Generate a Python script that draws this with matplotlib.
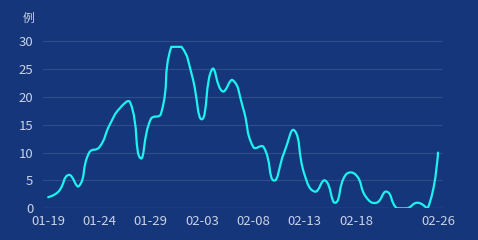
import matplotlib
matplotlib.use("Agg")
import matplotlib.pyplot as plt
from matplotlib.path import Path
from matplotlib.patches import PathPatch

plt.rcParams['font.family'] = ['Noto Sans CJK SC', 'DejaVu Sans']

# daily new cases, 01-19 .. 02-26
dates = ['01-19', '01-20', '01-21', '01-22', '01-23', '01-24', '01-25', '01-26',
         '01-27', '01-28', '01-29', '01-30', '01-31', '02-01', '02-02', '02-03',
         '02-04', '02-05', '02-06', '02-07', '02-08', '02-09', '02-10', '02-11',
         '02-12', '02-13', '02-14', '02-15', '02-16', '02-17', '02-18', '02-19',
         '02-20', '02-21', '02-22', '02-23', '02-24', '02-25', '02-26']
cases = [2, 3, 6, 4, 10, 11, 15, 18, 19, 9, 16, 17, 29, 29, 24, 16, 25, 21, 23,
         18, 11, 11, 5, 10, 14, 6, 3, 5, 1, 6, 6, 2, 1, 3, 0, 0, 1, 0, 10]
shown_ticks = [0, 5, 10, 15, 20, 25, 30, 38]
y_ticks = [0, 5, 10, 15, 20, 25, 30]

bg = '#15367a'
grid_c = '#2f4c8c'
text_c = '#c9d2e6'
line_c = '#1ef2f0'

fig = plt.figure(figsize=(4.78, 2.4), dpi=100, facecolor=bg)
ax = fig.add_axes([0.09, 0.132, 0.837, 0.696], facecolor=bg)

# pixel scale so the smoothing behaves like the echarts (v4) one
sx = 0.837 * 478 / len(dates)
sy = 0.696 * 240 / 30


def smooth_path(xs, ys, smooth=0.5):
    pts = [(x * sx, y * sy) for x, y in zip(xs, ys)]
    lo = (min(p[0] for p in pts), min(p[1] for p in pts))
    hi = (max(p[0] for p in pts), max(p[1] for p in pts))

    def clamp(c):
        return (min(max(c[0], lo[0]), hi[0]), min(max(c[1], lo[1]), hi[1]))

    n = len(pts)
    verts = [pts[0]]
    codes = [Path.MOVETO]
    cp0 = pts[0]
    for i in range(1, n):
        p = pts[i]
        prev = pts[i - 1]
        if i == n - 1:
            cp1 = p
            v = (0, 0)
            r = 0.5
        else:
            nxt = pts[i + 1]
            v = (nxt[0] - prev[0], nxt[1] - prev[1])
            lp = ((p[0] - prev[0]) ** 2 + (p[1] - prev[1]) ** 2) ** 0.5
            ln = ((nxt[0] - p[0]) ** 2 + (nxt[1] - p[1]) ** 2) ** 0.5
            r = ln / (ln + lp)
            cp1 = (p[0] - v[0] * smooth * (1 - r), p[1] - v[1] * smooth * (1 - r))
        verts += [clamp(cp0), clamp(cp1), p]
        codes += [Path.CURVE4] * 3
        cp0 = (p[0] + v[0] * smooth * r, p[1] + v[1] * smooth * r)
    verts = [(a / sx, b / sy) for a, b in verts]
    return Path(verts, codes)


path = smooth_path(list(range(len(dates))), cases)
ax.add_patch(PathPatch(path, facecolor='none', edgecolor=line_c, lw=1.6,
                       capstyle='round', joinstyle='round', zorder=3))

ax.set_xlim(-0.5, len(dates) - 0.5)
ax.set_ylim(0, 30)
ax.set_xticks(shown_ticks)
ax.set_xticklabels([dates[i] for i in shown_ticks])
ax.set_yticks(y_ticks)
ax.tick_params(length=0, colors=text_c, labelsize=9.5)
ax.tick_params(axis='y', pad=7)
ax.tick_params(axis='x', pad=5)
ax.grid(axis='y', color=grid_c, lw=0.8)
ax.set_axisbelow(True)
for s in ax.spines.values():
    s.set_visible(False)
ax.axhline(0, color='#4a64a2', lw=0.9)

fig.text(28 / 478, 1 - 18 / 240, '例', color=text_c, fontsize=8.5,
         ha='center', va='center')

fig.savefig('out.png', dpi=100, facecolor=bg)
